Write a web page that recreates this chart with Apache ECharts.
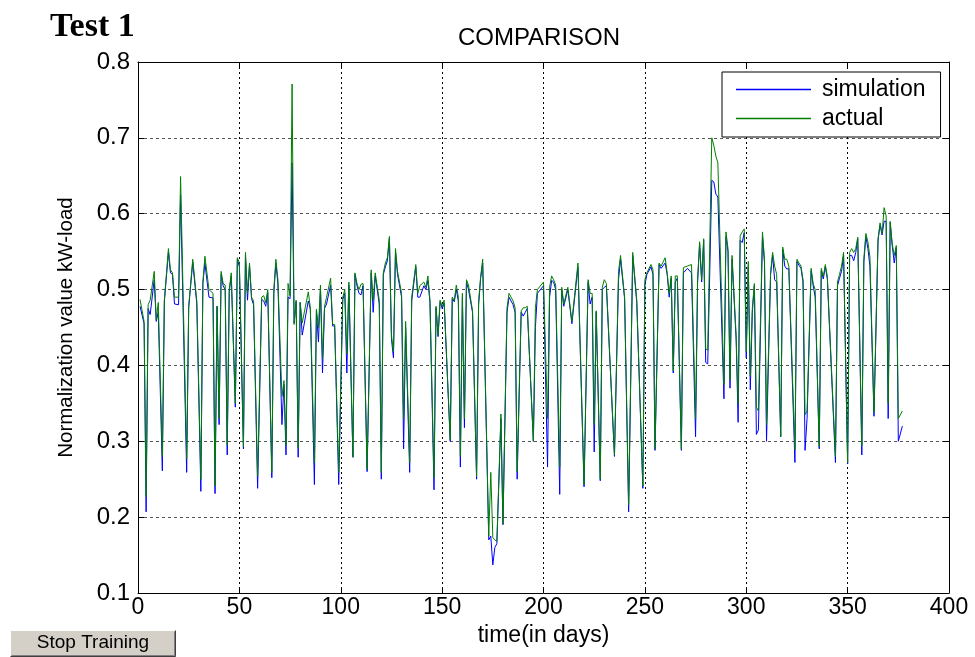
<!DOCTYPE html>
<html>
<head>
<meta charset="utf-8">
<title>COMPARISON</title>
<script src="https://cdn.jsdelivr.net/npm/echarts@6/dist/echarts.min.js"></script>
<style>
  html, body { margin: 0; padding: 0; background: #fff; }
  #chart { width: 975px; height: 657px; }
</style>
</head>
<body>
<div id="chart"></div>
<script>
// Daily normalized kW load: measured ("actual") against the network output ("simulation").
const days = [
  1,3,4,5,6,8,9,10,12,13,
  15,16,17,18,20,21,24,25,27,29,
  31,32,33,35,37,38,39,40,41,42,
  43,44,45,46,48,49,50,52,53,54,
  55,56,57,59,61,62,63,64,66,67,
  68,69,71,72,73,74,75,76,77,78,
  79,80,81,84,85,87,88,89,90,91,
  92,93,95,96,97,99,101,102,103,104,
  106,107,108,109,110,111,113,115,116,117,
  119,120,121,122,123,124,125,126,127,128,
  130,131,132,134,135,137,138,139,141,142,
  143,144,146,147,148,149,150,151,154,155,
  156,157,158,159,160,161,162,163,165,167,
  168,169,170,173,174,175,176,177,179,180,
  182,183,184,185,186,187,189,190,191,192,
  195,196,197,200,202,203,204,205,206,208,
  209,210,212,214,217,220,222,223,224,225,
  226,228,229,230,231,235,237,238,240,242,
  244,246,249,250,251,253,254,255,257,258,
  260,261,262,263,264,265,266,268,269,271,
  273,275,276,277,278,279,280,281,283,284,
  285,286,289,290,291,292,293,295,296,297,
  298,299,300,301,302,303,304,305,306,308,
  309,310,312,313,314,315,317,318,319,320,
  321,324,325,326,327,328,329,330,332,333,
  334,336,337,338,339,340,344,345,346,347,
  348,350,351,352,353,354,355,357,358,359,
  360,361,363,365,366,367,368,369,370,371,
  372,373,374,375,377
];

const actual = [
  .487,.458,.227,.480,.486,.524,.460,.483,.280,.486,
  .554,.526,.522,.490,.490,.649,.277,.478,.540,.485,
  .250,.510,.544,.500,.495,.241,.478,.330,.524,.508,
  .506,.295,.500,.522,.350,.542,.535,.293,.549,.495,
  .535,.490,.485,.254,.490,.492,.483,.500,.259,.500,
  .540,.513,.359,.380,.295,.508,.492,.771,.454,.486,
  .291,.483,.456,.497,.476,.272,.474,.450,.506,.409,
  .478,.490,.515,.454,.454,.259,.490,.500,.415,.510,
  .279,.522,.508,.500,.507,.508,.263,.526,.486,.522,
  .486,.259,.522,.535,.542,.570,.440,.418,.554,.524,
  .495,.330,.458,.272,.490,.533,.495,.505,.510,.503,
  .518,.486,.252,.478,.440,.486,.477,.486,.302,.490,
  .486,.506,.490,.280,.495,.330,.513,.506,.472,.254,
  .485,.517,.540,.175,.259,.173,.170,.168,.336,.191,
  .476,.495,.490,.485,.476,.260,.472,.476,.476,.478,
  .300,.476,.500,.510,.330,.503,.518,.513,.506,.266,
  .503,.481,.503,.458,.535,.243,.513,.495,.495,.322,
  .472,.250,.503,.513,.508,.282,.524,.545,.490,.216,
  .549,.486,.241,.513,.522,.533,.526,.290,.535,.531,
  .542,.522,.495,.518,.393,.518,.518,.290,.529,.531,
  .533,.330,.513,.563,.513,.567,.422,.420,.700,.690,
  .676,.667,.375,.576,.554,.381,.545,.440,.350,.571,
  .576,.580,.418,.537,.386,.476,.508,.345,.340,.576,
  .540,.322,.522,.549,.531,.520,.306,.556,.540,.540,
  .531,.289,.540,.535,.531,.513,.335,.340,.528,.508,
  .500,.293,.528,.517,.533,.517,.280,.510,.520,.531,
  .549,.272,.549,.554,.549,.554,.569,.294,.541,.574,
  .563,.543,.338,.567,.588,.574,.608,.597,.350,.590,
  .560,.545,.558,.330,.340
];

const simulation = [
  .478,.455,.207,.475,.467,.513,.458,.470,.261,.484,
  .549,.522,.520,.481,.480,.625,.259,.476,.536,.481,
  .234,.508,.535,.490,.489,.231,.478,.322,.520,.505,
  .500,.282,.497,.518,.345,.540,.530,.290,.545,.486,
  .532,.488,.480,.238,.487,.485,.478,.496,.252,.495,
  .535,.508,.322,.375,.282,.490,.488,.667,.456,.484,
  .279,.483,.440,.485,.474,.243,.472,.431,.500,.390,
  .475,.481,.506,.452,.452,.243,.487,.495,.390,.506,
  .279,.520,.505,.495,.493,.505,.260,.522,.470,.518,
  .481,.250,.520,.530,.538,.568,.435,.410,.550,.520,
  .490,.290,.450,.259,.485,.530,.490,.490,.505,.500,
  .512,.483,.236,.476,.438,.484,.475,.482,.300,.488,
  .484,.500,.485,.266,.490,.318,.510,.500,.470,.250,
  .480,.515,.535,.170,.175,.137,.160,.165,.330,.190,
  .470,.490,.485,.480,.470,.250,.470,.465,.470,.475,
  .300,.450,.495,.505,.266,.490,.512,.510,.500,.230,
  .500,.478,.500,.455,.530,.240,.510,.481,.490,.286,
  .470,.248,.500,.503,.505,.280,.513,.540,.488,.207,
  .545,.483,.238,.506,.520,.530,.520,.288,.533,.528,
  .535,.520,.490,.515,.390,.510,.515,.288,.522,.528,
  .522,.306,.510,.560,.510,.565,.404,.402,.644,.642,
  .626,.622,.356,.570,.550,.370,.540,.435,.325,.565,
  .562,.575,.410,.530,.368,.470,.505,.309,.315,.570,
  .535,.300,.520,.545,.513,.510,.306,.553,.531,.527,
  .528,.272,.537,.532,.528,.510,.288,.330,.525,.505,
  .490,.290,.525,.514,.530,.514,.272,.505,.515,.524,
  .545,.270,.545,.545,.538,.549,.567,.282,.536,.570,
  .554,.531,.333,.565,.585,.572,.590,.590,.330,.588,
  .558,.535,.555,.300,.320
];

const xTicks = [0, 50, 100, 150, 200, 250, 300, 350, 400];
const yTicks = [0.1, 0.2, 0.3, 0.4, 0.5, 0.6, 0.7, 0.8];

const FONT = '"Liberation Sans", Arial, Helvetica, sans-serif';

const chart = echarts.init(document.getElementById('chart'), null, { renderer: 'canvas' });

const pairs = vals => days.map((d, i) => [d, vals[i]]);

const tickStyle = { show: true, inside: true, length: 6, lineStyle: { color: '#000', width: 1 } };
const boxLine = { show: true, onZero: false, lineStyle: { color: '#000', width: 1 } };

chart.setOption({
  animation: false,
  backgroundColor: '#fff',
  title: {
    text: 'COMPARISON',
    left: 534, top: 21, textAlign: 'center',
    textStyle: { fontFamily: FONT, fontSize: 24, fontWeight: 'normal', color: '#000' }
  },
  grid: { left: 138, top: 62, right: 26, bottom: 64, containLabel: false },
  legend: {
    data: ['simulation', 'actual'],
    orient: 'vertical',
    left: 722, top: 72,
    backgroundColor: '#fff',
    borderColor: '#000', borderWidth: 1,
    padding: [6, 15, 7, 14],
    icon: 'rect',
    itemWidth: 75, itemHeight: 1.5, itemGap: 6,
    textStyle: { fontFamily: FONT, fontSize: 23, lineHeight: 23, color: '#000',
                 padding: [0, 0, 0, 6] }
  },
  xAxis: [{
    type: 'value', position: 'bottom',
    min: xTicks[0], max: xTicks[xTicks.length - 1], interval: 50,
    name: 'time(in days)', nameLocation: 'middle', nameGap: 29,
    nameTextStyle: { fontFamily: FONT, fontSize: 23, color: '#000' },
    axisLine: boxLine, axisTick: tickStyle,
    axisLabel: { fontFamily: FONT, fontSize: 23, color: '#000', margin: 3 },
    splitLine: { show: true, lineStyle: { color: '#000', width: 1, type: [2, 3] } }
  }, {
    type: 'value', position: 'top',
    min: xTicks[0], max: xTicks[xTicks.length - 1], interval: 50,
    axisLine: boxLine, axisTick: tickStyle,
    axisLabel: { show: false }, splitLine: { show: false }
  }],
  yAxis: [{
    type: 'value', position: 'left',
    min: yTicks[0], max: yTicks[yTicks.length - 1], interval: 0.1,
    name: 'Normalization value kW-load', nameLocation: 'middle', nameGap: 61,
    nameTextStyle: { fontFamily: FONT, fontSize: 20.5, color: '#000' },
    axisLine: boxLine, axisTick: tickStyle,
    axisLabel: { fontFamily: FONT, fontSize: 24, color: '#000', margin: 8,
                 formatter: v => v.toFixed(1) },
    splitLine: { show: true, lineStyle: { color: '#555', width: 1, type: [3, 3] } }
  }, {
    type: 'value', position: 'right',
    min: yTicks[0], max: yTicks[yTicks.length - 1], interval: 0.1,
    axisLine: boxLine, axisTick: tickStyle,
    axisLabel: { show: false }, splitLine: { show: false }
  }],
  series: [{
    name: 'simulation', type: 'line',
    data: pairs(simulation),
    showSymbol: false, symbol: 'none',
    lineStyle: { color: '#0000ff', width: 1 },
    itemStyle: { color: '#0000ff' },
    z: 2
  }, {
    name: 'actual', type: 'line',
    data: pairs(actual),
    showSymbol: false, symbol: 'none',
    lineStyle: { color: '#008000', width: 1 },
    itemStyle: { color: '#008000' },
    z: 3
  }],
  graphic: [{
    type: 'text', left: 50, top: 10,
    style: { text: 'Test 1', font: 'bold 34px "Liberation Serif", "Times New Roman", serif', fill: '#000' }
  }, {
    type: 'group', left: 8, top: 628,
    children: [
      { type: 'rect', shape: { x: 0, y: 0, width: 166, height: 27 },
        style: { fill: '#d4d0c8', stroke: null } },
      { type: 'polyline', shape: { points: [[0.5, 26.5], [0.5, 0.5], [165.5, 0.5]] },
        style: { stroke: '#ffffff', lineWidth: 1, fill: null } },
      { type: 'polyline', shape: { points: [[0.5, 26.5], [165.5, 26.5], [165.5, 0.5]] },
        style: { stroke: '#404040', lineWidth: 1, fill: null } },
      { type: 'polyline', shape: { points: [[1.5, 25.5], [164.5, 25.5], [164.5, 1.5]] },
        style: { stroke: '#808080', lineWidth: 1, fill: null } },
      { type: 'text', x: 83, y: 13,
        style: { text: 'Stop Training', font: '19px "Liberation Sans", Arial, sans-serif',
                 fill: '#000', align: 'center', verticalAlign: 'middle' } }
    ]
  }]
});
</script>
</body>
</html>
